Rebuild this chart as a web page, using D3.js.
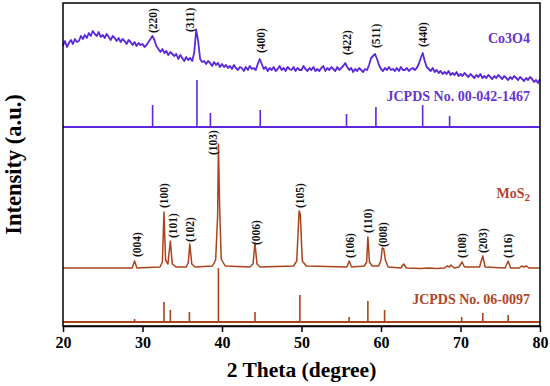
<!DOCTYPE html>
<html><head><meta charset="utf-8">
<script src="https://cdn.jsdelivr.net/npm/d3@7"></script>
<style>body{margin:0;background:#fff}svg{display:block}</style>
</head><body>
<svg id="c" width="550" height="386"></svg>
<script>
// ---- data ----
const xTicks = [20, 30, 40, 50, 60, 70, 80];
// Co3O4 measured pattern, sampled from 20 to 80 deg every 0.25 deg (offset, a.u.)
const coStart = 20, coStep = 0.25;
const coValues = [
280,285,279,283, 286,282,287,284, 285,290,287,291, 288,293,290,295,
292,290,294,289, 291,288,292,289, 286,290,288,285, 288,284,287,285,
282,286,284,281, 284,280,283,281, 282,279,281,284, 287,290,286,280,
277,274,277,273, 275,271,274,272, 270,272,267,271, 268,265,269,266,
268,265,273,296, 285,267,264,265, 262,265,263,260, 264,261,263,259,
262,259,261,258, 260,257,261,258, 256,259,258,255, 259,256,260,257,
258,256,262,267, 262,257,259,255, 258,256,259,255, 257,260,256,258,
255,259,257,256, 259,255,258,256, 256,260,257,255, 258,256,259,255,
257,255,258,260, 255,258,256,259, 257,255,259,256, 258,260,263,259,
256,258,254,257, 255,258,256,254, 257,256,261,268, 270,272,267,261,
257,255,258,256, 259,256,257,255, 258,255,259,256, 256,258,255,257,
258,256,258,262, 268,273,265,259, 257,255,258,254, 256,253,255,252,
254,252,255,251, 253,251,254,250, 252,250,253,251, 249,252,250,248,
251,249,252,248, 250,248,251,249, 247,250,248,251, 249,247,250,248,
246,249,247,250, 248,246,249,247, 245,248,246,249, 247,244,246,243,
247
];
// MoS2 measured pattern: 2theta / intensity (offset, a.u.)
const mosTheta = [20,28.7,29.0,29.3, 32.2,32.5,32.7,32.9,33.2,33.5,33.75,34.2,
  35.5,35.75,35.95,36.2,36.6, 38.8,39.2,39.45,39.55,39.7,39.9,40.4,
  43.5,43.9,44.15,44.4,44.8, 49.0,49.4,49.7,49.85,50.1,50.6,
  55.7,56.0,56.3, 57.9,58.2,58.35,58.55,58.9, 59.7,60.0,60.15,60.35,60.55,60.9,
  62.5,62.85,63.2, 65,66,67,68.0,68.3,68.6,68.8,69.2, 69.8,70.2,70.5,
  72.4,72.8,73.1, 75.6,76.0,76.3, 77.4,77.7,78.0,78.3,78.6,80];
const mosInt = [58,58,65,58, 59,64,114,66,62,85,62,59,
  59,63,82,62,59, 60,66,110,182,120,67,60,
  59,62,83,62,59, 60,65,115,112,65,60,
  59,65,59, 60,64,89,64,60, 60,66,78,77,66,59,
  58,62,58, 57.5,58,57.5,58,60,59,61,58, 59,64,59,
  59,70,59, 58,65,58, 58,60,59,60,58,58];
// reference patterns (stick positions and heights)
const coRefTheta = [31.27, 36.85, 38.54, 44.81, 55.66, 59.36, 65.24, 68.63];
const coRefInt   = [22, 47, 14, 17, 13, 20, 22, 11];
const coRefBase = 199;
const mosRefTheta = [29.0, 32.7, 33.5, 35.9, 39.55, 44.15, 49.8, 56.0, 58.35, 60.45, 70.15, 72.8, 76.0];
const mosRefInt   = [3, 20, 12, 10, 54, 10, 27, 5, 21, 12, 5, 9, 7];
const mosRefBase = 4;
// peak labels
const coHkl = ["(220)", "(311)", "(400)", "(422)", "(511)", "(440)"];
const coHklTheta = [31.3, 36.0, 44.9, 55.7, 59.4, 65.3];
const coHklInt = [293, 294, 273, 271, 278, 279];
const mosHkl = ["(004)", "(100)", "(101)", "(102)", "(103)", "(006)", "(105)", "(106)", "(110)", "(008)", "(108)", "(203)", "(116)"];
const mosHklTheta = [29.3, 32.7, 33.8, 36.0, 38.9, 44.3, 49.8, 56.1, 58.4, 60.25, 70.2, 72.8, 76.0];
const mosHklInt = [69, 118, 88, 84, 171, 81, 118, 68, 93, 79, 68, 73, 68];

// ---- drawing ----
const svg = d3.select("#c");
const L = 63, R = 540, T = 3, B = 326;
const x = d3.scaleLinear().domain([20, 80]).range([L, R]);
const y = d3.scaleLinear().domain([0, 323]).range([B, T]);
const serif = "'Liberation Serif','Times New Roman',serif";
const purple = "#5c28dc", purpleText = "#6634d0";
const brown = "#a9431a", brownText = "#b24426";

const coData = coValues.map((v, i) => [coStart + i * coStep, v]);
const mosData = mosTheta.map((t, i) => [t, mosInt[i]]);
const line = d3.line().x(d => x(d[0])).y(d => y(d[1]));

// reference baselines
svg.append("line").attr("x1", x(20)).attr("x2", x(80)).attr("y1", y(coRefBase)).attr("y2", y(coRefBase))
  .attr("stroke", purple).attr("stroke-width", 2);
svg.append("line").attr("x1", x(20)).attr("x2", x(80)).attr("y1", y(mosRefBase)).attr("y2", y(mosRefBase))
  .attr("stroke", brown).attr("stroke-width", 2);

// sticks
svg.selectAll(".cos").data(coRefTheta).join("line")
  .attr("x1", d => x(d)).attr("x2", d => x(d))
  .attr("y1", y(coRefBase)).attr("y2", (d, i) => y(coRefBase + coRefInt[i]))
  .attr("stroke", purple).attr("stroke-width", 1.6);
svg.selectAll(".mss").data(mosRefTheta).join("line")
  .attr("x1", d => x(d)).attr("x2", d => x(d))
  .attr("y1", y(mosRefBase)).attr("y2", (d, i) => y(mosRefBase + mosRefInt[i]))
  .attr("stroke", brown).attr("stroke-width", 1.6);

// curves
svg.append("path").datum(coData).attr("d", line).attr("fill", "none")
  .attr("stroke", purple).attr("stroke-width", 1.8).attr("stroke-linejoin", "round");
svg.append("path").datum(mosData).attr("d", line).attr("fill", "none")
  .attr("stroke", brown).attr("stroke-width", 1.5).attr("stroke-linejoin", "round");

// hkl labels
function hkl(labels, thetas, ints) {
  svg.append("g").selectAll("text").data(labels).join("text")
    .attr("transform", (d, i) => `translate(${x(thetas[i])},${y(ints[i])}) rotate(-90)`)
    .attr("dy", "0.35em").attr("font-family", serif).attr("font-weight", "bold")
    .attr("font-size", 11.5).attr("fill", "#111").text(d => d);
}
hkl(coHkl, coHklTheta, coHklInt);
hkl(mosHkl, mosHklTheta, mosHklInt);

// series labels
svg.append("text").attr("x", R - 10).attr("y", 43).attr("text-anchor", "end")
  .attr("font-family", serif).attr("font-weight", "bold").attr("font-size", 14)
  .attr("fill", purpleText).text("Co3O4");
svg.append("text").attr("x", R - 10).attr("y", 101).attr("text-anchor", "end")
  .attr("font-family", serif).attr("font-weight", "bold").attr("font-size", 14)
  .attr("fill", purpleText).text("JCPDS No. 00-042-1467");
const ms = svg.append("text").attr("x", R - 10).attr("y", 198).attr("text-anchor", "end")
  .attr("font-family", serif).attr("font-weight", "bold").attr("font-size", 14)
  .attr("fill", brownText);
ms.append("tspan").text("MoS");
ms.append("tspan").attr("dy", 3).attr("font-size", 11).text("2");
svg.append("text").attr("x", R - 10).attr("y", 304).attr("text-anchor", "end")
  .attr("font-family", serif).attr("font-weight", "bold").attr("font-size", 14)
  .attr("fill", brownText).text("JCPDS No. 06-0097");

// frame and axis
svg.append("rect").attr("x", L).attr("y", T).attr("width", R - L).attr("height", B - T)
  .attr("fill", "none").attr("stroke", "#000").attr("stroke-width", 1.5);
const xAxis = svg.append("g").attr("transform", `translate(0,${B})`)
  .call(d3.axisBottom(x).tickValues(xTicks).tickSize(6).tickSizeOuter(0).tickPadding(5));
xAxis.select(".domain").attr("stroke-width", 1.5);
xAxis.selectAll(".tick line").attr("stroke-width", 1.5);
xAxis.selectAll("text").attr("font-family", serif).attr("font-weight", "bold")
  .attr("font-size", 16).attr("fill", "#000");

svg.append("text").attr("x", (L + R) / 2).attr("y", 377).attr("text-anchor", "middle")
  .attr("font-family", serif).attr("font-weight", "bold").attr("font-size", 21.5)
  .text("2 Theta (degree)");
svg.append("text").attr("transform", `translate(21,${(T + B) / 2}) rotate(-90)`)
  .attr("text-anchor", "middle")
  .attr("font-family", serif).attr("font-weight", "bold").attr("font-size", 22.5)
  .text("Intensity (a.u.)");
</script>
</body></html>
